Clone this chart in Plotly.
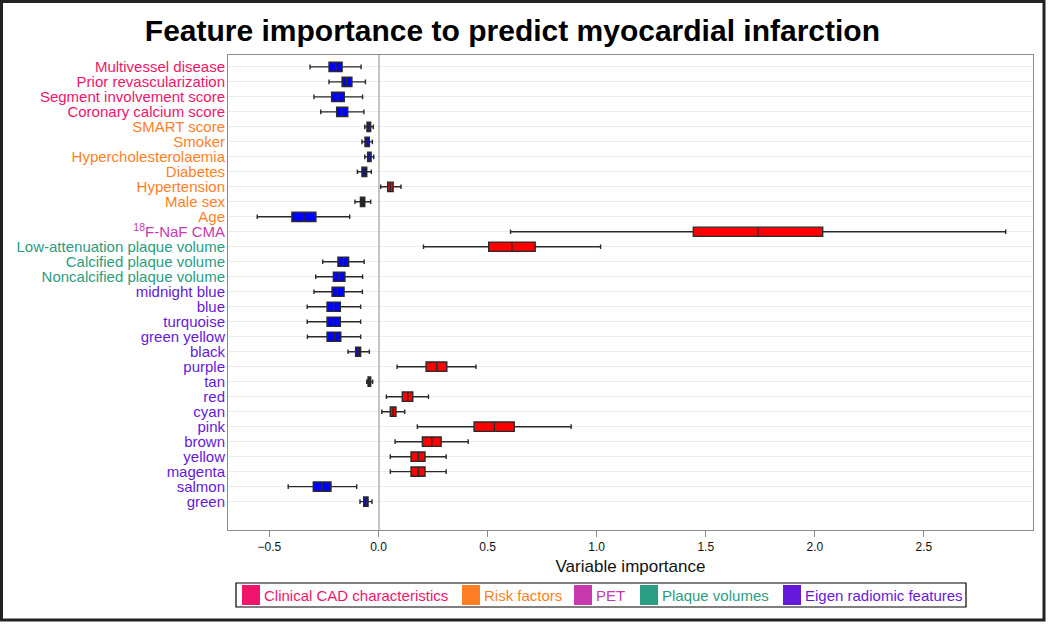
import plotly.graph_objects as go

features = ["Multivessel disease", "Prior revascularization", "Segment involvement score",
            "Coronary calcium score", "SMART score", "Smoker", "Hypercholesterolaemia",
            "Diabetes", "Hypertension", "Male sex", "Age", "<sup>18</sup>F-NaF CMA",
            "Low-attenuation plaque volume", "Calcified plaque volume",
            "Noncalcified plaque volume", "midnight blue", "blue", "turquoise",
            "green yellow", "black", "purple", "tan", "red", "cyan", "pink", "brown",
            "yellow", "magenta", "salmon", "green"]
groups = ["Clinical CAD characteristics"] * 4 + ["Risk factors"] * 7 + ["PET"] + \
         ["Plaque volumes"] * 3 + ["Eigen radiomic features"] * 15

lower = [-0.314, -0.227, -0.296, -0.265, -0.063, -0.076, -0.063, -0.097, 0.010, -0.108,
         -0.556, 0.605, 0.206, -0.256, -0.288, -0.296, -0.327, -0.327, -0.326, -0.140,
         0.085, -0.054, 0.036, 0.015, 0.178, 0.076, 0.054, 0.054, -0.414, -0.085]
q1 = [-0.227, -0.167, -0.215, -0.192, -0.053, -0.062, -0.050, -0.076, 0.042, -0.083,
      -0.397, 1.443, 0.505, -0.186, -0.207, -0.213, -0.236, -0.236, -0.236, -0.105,
      0.218, -0.048, 0.109, 0.054, 0.438, 0.201, 0.149, 0.149, -0.299, -0.068]
median = [-0.195, -0.146, -0.187, -0.169, -0.044, -0.053, -0.042, -0.066, 0.054, -0.074,
          -0.342, 1.739, 0.611, -0.161, -0.181, -0.189, -0.206, -0.207, -0.201, -0.093,
          0.267, -0.042, 0.134, 0.067, 0.531, 0.244, 0.183, 0.183, -0.259, -0.057]
q3 = [-0.167, -0.122, -0.157, -0.141, -0.036, -0.042, -0.034, -0.054, 0.067, -0.063,
      -0.287, 2.036, 0.718, -0.137, -0.154, -0.158, -0.175, -0.175, -0.173, -0.082,
      0.313, -0.036, 0.157, 0.080, 0.622, 0.287, 0.213, 0.213, -0.218, -0.048]
upper = [-0.080, -0.060, -0.073, -0.067, -0.024, -0.028, -0.022, -0.033, 0.103, -0.036,
         -0.132, 2.875, 1.018, -0.066, -0.073, -0.074, -0.082, -0.082, -0.082, -0.042,
         0.447, -0.027, 0.229, 0.120, 0.883, 0.411, 0.310, 0.310, -0.100, -0.030]

group_colors = {
    "Clinical CAD characteristics": "#F2146A",
    "Risk factors": "#FF7F27",
    "PET": "#C63AAE",
    "Plaque volumes": "#2A9D82",
    "Eigen radiomic features": "#6419DB",
}

# plot area in pixels (figure coords)
L, R, T, B = 228, 1033, 55, 530
W, H = 1050, 626


def px(x):
    return (x - L) / (R - L)


def py(y):
    return (B - y) / (B - T)


fig = go.Figure()

# negative (blue) and positive (red) boxes
for sign, color in [(-1, "#0000FF"), (1, "#FF0000")]:
    idx = [i for i in range(len(features)) if (median[i] > 0) == (sign > 0)]
    fig.add_trace(go.Box(
        y=idx, orientation="h",
        lowerfence=[lower[i] for i in idx], q1=[q1[i] for i in idx],
        median=[median[i] for i in idx], q3=[q3[i] for i in idx],
        upperfence=[upper[i] for i in idx],
        fillcolor=color, line=dict(color="#2a2a2a", width=1.4),
        width=0.62, whiskerwidth=0.5, showlegend=False, hoverinfo="skip"))

ticktext = [f"<span style='color:{group_colors[g]}'>{f}</span>" for f, g in zip(features, groups)]

# hand-drawn legend box (coloured text per entry)
shapes = [dict(type="rect", xref="paper", yref="paper",
               x0=px(236), x1=px(966), y0=py(607), y1=py(583),
               line=dict(color="black", width=1.2), fillcolor="white")]
annotations = []
leg_x = [242, 462, 574, 640, 783]
for (g, c), x0 in zip(group_colors.items(), leg_x):
    shapes.append(dict(type="rect", xref="paper", yref="paper",
                       x0=px(x0), x1=px(x0 + 18), y0=py(605), y1=py(585),
                       line=dict(width=0), fillcolor=c))
    annotations.append(dict(text=g, xref="paper", yref="paper", x=px(x0 + 20), y=py(595),
                            xanchor="left", yanchor="middle", showarrow=False,
                            font=dict(size=15, color=c)))

# outer frame
shapes.append(dict(type="rect", xref="paper", yref="paper",
                   x0=px(1.5), x1=px(1044), y0=py(620), y1=py(1.5),
                   line=dict(color="#222", width=3)))

fig.update_layout(
    width=W, height=H,
    margin=dict(l=L, r=W - R, t=T, b=H - B),
    plot_bgcolor="white", paper_bgcolor="white",
    font=dict(family="Liberation Sans, Arial, sans-serif", color="#111"),
    title=dict(text="<b>Feature importance to predict myocardial infarction</b>",
               x=0.488, xanchor="center", y=0.952, yanchor="middle",
               font=dict(size=30, color="black")),
    xaxis=dict(range=[-0.69, 3.0], tickvals=[-0.5, 0, 0.5, 1, 1.5, 2, 2.5],
               ticktext=["\u22120.5", "0.0", "0.5", "1.0", "1.5", "2.0", "2.5"],
               ticks="outside", ticklen=6, tickcolor="#888", tickfont=dict(size=12),
               showgrid=False, zeroline=True, zerolinecolor="#c4c4c4", zerolinewidth=2,
               showline=True, linecolor="#8c8c8c", linewidth=1, mirror=True,
               title=dict(text="Variable importance", font=dict(size=17), standoff=6)),
    yaxis=dict(range=[30.89, -0.79], tickvals=list(range(len(features))), ticktext=ticktext,
               tickfont=dict(size=15), showgrid=True, gridcolor="#ececec", gridwidth=1,
               zeroline=False, showline=True, linecolor="#8c8c8c", linewidth=1, mirror=True,
               ticks="", ticklabelstandoff=-1),
    showlegend=False,
    shapes=shapes,
    annotations=annotations,
)

fig.write_html("out.html", config={"displayModeBar": False},
               post_script="document.body.style.margin='0';")
